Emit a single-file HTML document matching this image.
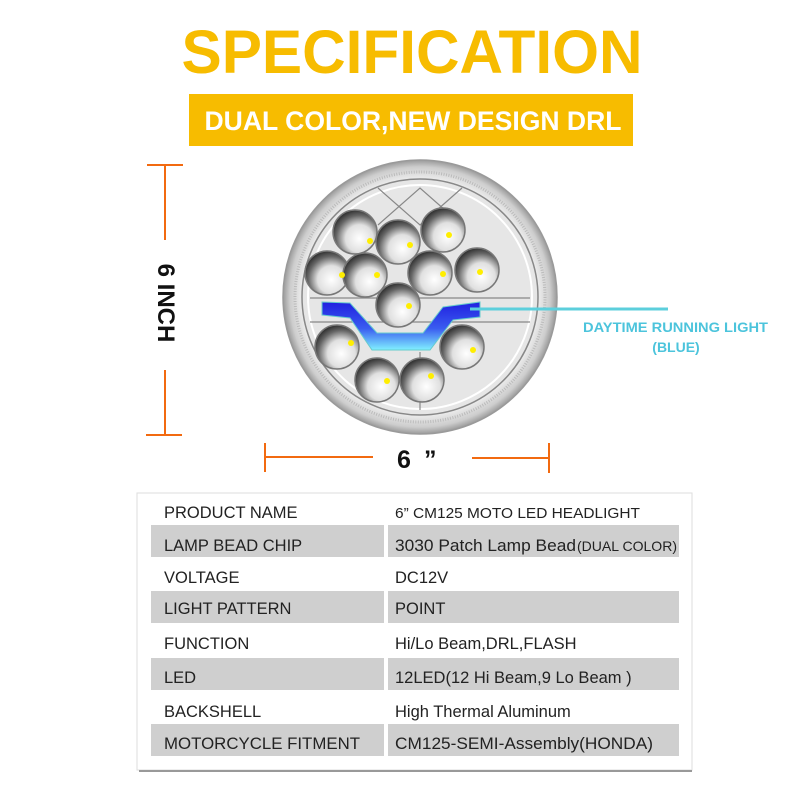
<!DOCTYPE html>
<html><head><meta charset="utf-8"><style>
html,body{margin:0;padding:0;background:#fff;}
svg{display:block;font-family:"Liberation Sans",Arial,sans-serif;}
</style></head><body>
<svg width="800" height="800" viewBox="0 0 800 800" xmlns="http://www.w3.org/2000/svg">
<defs>
<radialGradient id="cup" cx="0.6" cy="0.65" r="0.7">
<stop offset="0" stop-color="#ffffff"/><stop offset="0.45" stop-color="#e0e0e0"/><stop offset="0.75" stop-color="#666"/><stop offset="1" stop-color="#222"/>
</radialGradient>
<linearGradient id="drl" x1="0" y1="0" x2="0" y2="1">
<stop offset="0" stop-color="#2020e0"/><stop offset="0.55" stop-color="#3a5cf0"/><stop offset="1" stop-color="#80f0ff"/>
</linearGradient>
<radialGradient id="rim" cx="0.5" cy="0.5" r="0.5">
<stop offset="0.85" stop-color="#f0f0f0"/><stop offset="0.95" stop-color="#cdcdcd"/><stop offset="1" stop-color="#9a9a9a"/>
</radialGradient>
</defs>

<text x="412" y="73" text-anchor="middle" font-size="61" font-weight="bold" fill="#f7bc00" textLength="461" lengthAdjust="spacingAndGlyphs">SPECIFICATION</text>
<rect x="189" y="94" width="444" height="52" fill="#f7bc00"/>
<text x="413" y="130" text-anchor="middle" font-size="27" font-weight="bold" fill="#fff" textLength="417" lengthAdjust="spacingAndGlyphs">DUAL COLOR,NEW DESIGN DRL</text>

<g stroke="#f26a10" stroke-width="2">
<line x1="165" y1="165" x2="165" y2="240"/><line x1="165" y1="370" x2="165" y2="435"/>
<line x1="147" y1="165" x2="183" y2="165"/><line x1="146" y1="435" x2="182" y2="435"/>
<line x1="265" y1="457" x2="373" y2="457"/><line x1="472" y1="458" x2="549" y2="458"/>
<line x1="265" y1="443" x2="265" y2="472"/><line x1="549" y1="443" x2="549" y2="473"/>
</g>
<text transform="translate(158,303) rotate(90)" text-anchor="middle" font-size="24" font-weight="bold" fill="#111">6  INCH</text>
<text x="397" y="468" font-size="25" font-weight="bold" fill="#111">6</text>
<text x="424" y="468" font-size="25" font-weight="bold" fill="#111">”</text>

<circle cx="420" cy="297" r="137" fill="url(#rim)" stroke="#9a9a9a" stroke-width="1.5"/>
<circle cx="420" cy="297" r="125" fill="none" stroke="#bbb" stroke-width="3" stroke-dasharray="1 1.5"/>
<circle cx="420" cy="297" r="118" fill="#e6e6e6" stroke="#888" stroke-width="1.5"/>
<circle cx="420" cy="297" r="112" fill="none" stroke="#fff" stroke-width="2"/>
<g stroke="#888" stroke-width="1.2" fill="none">
<path d="M378 188 L420 225 L462 188 M378 225 L420 188 L462 225"/>
<line x1="310" y1="298" x2="530" y2="298"/><line x1="310" y1="322" x2="530" y2="322"/>
<line x1="420" y1="352" x2="420" y2="410"/>
</g>
<polygon points="322,302 350,303 377,333 423,333 443,307 480,302 480,317 453,320 430,350 372,350 350,318 322,315" fill="url(#drl)" stroke="#6cc" stroke-width="1"/>
<g stroke="#777" stroke-width="1.5" fill="url(#cup)">
<circle cx="355" cy="232" r="22"/><circle cx="398" cy="242" r="22"/><circle cx="443" cy="230" r="22"/>
<circle cx="327" cy="273" r="22"/><circle cx="365" cy="275" r="22"/><circle cx="430" cy="273" r="22"/><circle cx="477" cy="270" r="22"/>
<circle cx="398" cy="305" r="22"/>
<circle cx="337" cy="347" r="22"/><circle cx="462" cy="347" r="22"/>
<circle cx="377" cy="380" r="22"/><circle cx="422" cy="380" r="22"/>
</g>
<g fill="#ffee00">
<circle cx="370" cy="241" r="3"/><circle cx="410" cy="245" r="3"/><circle cx="449" cy="235" r="3"/>
<circle cx="342" cy="275" r="3"/><circle cx="377" cy="275" r="3"/><circle cx="443" cy="274" r="3"/><circle cx="480" cy="272" r="3"/>
<circle cx="409" cy="306" r="3"/>
<circle cx="351" cy="343" r="3"/><circle cx="473" cy="350" r="3"/>
<circle cx="387" cy="381" r="3"/><circle cx="431" cy="376" r="3"/>
</g>
<line x1="470" y1="309" x2="668" y2="309" stroke="#5ccfdc" stroke-width="3"/>
<text x="583" y="332" font-size="14" font-weight="bold" fill="#4cc4dc" textLength="185" lengthAdjust="spacingAndGlyphs">DAYTIME RUNNING LIGHT</text>
<text x="676" y="352" text-anchor="middle" font-size="14" font-weight="bold" fill="#4cc4dc">(BLUE)</text>

<rect x="137" y="493" width="555" height="277" fill="#fff" stroke="#ddd" stroke-width="1"/>
<line x1="139" y1="771" x2="692" y2="771" stroke="#999" stroke-width="2"/>
<g fill="#cfcfcf">
<rect x="151" y="525" width="233" height="32"/><rect x="388" y="525" width="291" height="32"/>
<rect x="151" y="591" width="233" height="32"/><rect x="388" y="591" width="291" height="32"/>
<rect x="151" y="658" width="233" height="32"/><rect x="388" y="658" width="291" height="32"/>
<rect x="151" y="724" width="233" height="32"/><rect x="388" y="724" width="291" height="32"/>
</g>
<g font-size="16.5" fill="#222">
<text x="164" y="518">PRODUCT NAME</text>
<text x="164" y="551">LAMP BEAD CHIP</text>
<text x="164" y="583">VOLTAGE</text>
<text x="164" y="614">LIGHT PATTERN</text>
<text x="164" y="649">FUNCTION</text>
<text x="164" y="683">LED</text>
<text x="164" y="717">BACKSHELL</text>
<text x="164" y="749" textLength="196" lengthAdjust="spacingAndGlyphs">MOTORCYCLE FITMENT</text>
<text x="395" y="518" font-size="15" textLength="245" lengthAdjust="spacingAndGlyphs">6” CM125 MOTO LED HEADLIGHT</text>
<text x="395" y="551" textLength="181" lengthAdjust="spacingAndGlyphs">3030 Patch Lamp Bead</text>
<text x="577" y="551" font-size="14" textLength="100" lengthAdjust="spacingAndGlyphs">(DUAL COLOR)</text>
<text x="395" y="583">DC12V</text>
<text x="395" y="614">POINT</text>
<text x="395" y="649">Hi/Lo Beam,DRL,FLASH</text>
<text x="395" y="683">12LED(12 Hi Beam,9 Lo Beam )</text>
<text x="395" y="717">High Thermal Aluminum</text>
<text x="395" y="749" textLength="258" lengthAdjust="spacingAndGlyphs">CM125-SEMI-Assembly(HONDA)</text>
</g>
</svg>
</body></html>
